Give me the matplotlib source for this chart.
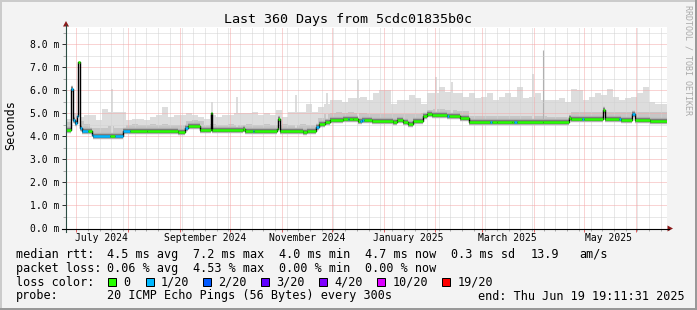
#!/usr/bin/env python3

import datetime as dt

import numpy as np
import matplotlib
matplotlib.use("Agg")
import matplotlib.pyplot as plt
from matplotlib.patches import Rectangle, Polygon

# Zeitraum: 360 Tage bis zum Ende der Messung
end_time = dt.datetime(2025, 6, 19, 19, 11, 31)
span_days = 360
start_time = end_time - dt.timedelta(days=span_days)

# Median-RTT (ms) als Treppenfunktion: Starttag seit start_time, Wert, verlorene Pings (von 20)
med_day = [0.0, 3.0, 4.19, 5.39, 6.59, 7.19, 8.09, 9.4, 13.18, 15.39, 16.17, 26.4,
           29.4, 34.3, 38.3, 48.3, 67.3, 71.3, 73.1, 80.3, 86.9, 87.5, 106.0, 107.2,
           111.8, 112.8, 126.4, 127.0, 128.2, 142.0, 144.4, 149.8, 151.6, 155.1, 158.1,
           165.9, 168.8, 169.8, 171.9, 174.9, 176.0, 177.3, 178.5, 183.3, 195.9, 198.3,
           201.9, 204.9, 207.9, 213.8, 216.2, 219.2, 228.2, 229.4, 236.0, 241.4, 254.0,
           255.2, 258.2, 267.2, 268.4, 270.2, 285.7, 301.3, 302.5, 308.9, 310.1, 321.7,
           322.9, 331.3, 332.5, 339.0, 340.8, 349.8]
med_ms = [4.26, 6.07, 4.70, 4.58, 4.90, 7.23, 4.38, 4.23, 4.23, 4.05, 4.00, 4.00,
          4.00, 4.22, 4.22, 4.24, 4.20, 4.38, 4.43, 4.26, 5.01, 4.26, 4.30, 4.23,
          4.23, 4.23, 4.33, 4.77, 4.23, 4.17, 4.23, 4.39, 4.55, 4.62, 4.70,
          4.77, 4.77, 4.77, 4.74, 4.67, 4.67, 4.70, 4.70, 4.67, 4.62, 4.70,
          4.60, 4.52, 4.67, 4.86, 4.96, 4.91, 4.87, 4.87, 4.81, 4.64, 4.60,
          4.60, 4.64, 4.60, 4.60, 4.61, 4.60, 4.80, 4.77, 4.77, 4.74, 5.13,
          4.74, 4.74, 4.71, 4.96, 4.70, 4.67]
med_loss = [0, 1, 1, 1, 1, 0, 1, 1, 0, 1, 1, 0,
            1, 1, 0, 0, 0, 1, 0, 0, 0, 0, 0, 0,
            1, 0, 0, 0, 0, 0, 0, 1, 0, 0, 0,
            0, 1, 0, 0, 0, 1, 1, 0, 0, 0, 0,
            0, 0, 0, 0, 0, 0, 1, 0, 0, 0, 1,
            0, 0, 0, 1, 0, 0, 0, 0, 1, 0, 0,
            0, 1, 0, 1, 0, 0]

# Rauch: obere Grenze des hellen Bereichs und des mittleren Bereichs, Blöcke zu 3.6 Tagen
bin_days = 3.6
smoke_hi = [4.77, 4.99, 4.84, 4.91, 4.91, 4.70, 5.20, 5.06, 5.06, 5.06, 4.70, 4.77,
            4.77, 4.70, 4.84, 4.91, 5.28, 4.84, 4.91, 4.91, 4.99, 4.91, 4.84, 4.77,
            4.91, 4.84, 4.91, 4.91, 4.99, 4.99, 4.99, 5.06, 4.91, 4.99, 4.91, 5.13,
            4.84, 5.06, 5.06, 5.06, 5.42, 5.06, 5.28, 5.42, 5.57, 5.57, 5.49, 5.64,
            5.64, 5.71, 5.57, 5.86, 6.00, 6.00, 5.42, 5.57, 5.57, 5.78, 5.64, 5.42,
            5.86, 5.86, 6.14, 5.93, 5.86, 5.86, 5.71, 5.86, 5.64, 5.71, 5.86, 5.57,
            5.71, 5.86, 5.71, 6.14, 5.64, 5.71, 5.86, 5.57, 5.57, 5.57, 5.64, 5.49,
            6.07, 6.00, 5.57, 5.71, 5.86, 5.78, 6.07, 5.71, 5.57, 5.64, 5.71, 5.86,
            6.14, 5.49, 5.42, 5.42]
smoke_mid = [4.60, 4.75, 4.65, 4.55, 4.35, 4.35, 4.35, 4.45, 4.35, 4.35,
             4.50, 4.55, 4.50, 4.50, 4.55, 4.50, 4.55, 4.50, 4.50, 4.50,
             4.65, 4.70, 4.65,
             4.50, 4.55, 4.50, 4.50, 4.55, 4.50, 4.50, 4.55, 4.50, 4.50,
             4.55, 4.50, 4.50, 4.55, 4.50, 4.50, 4.55, 4.50, 4.50,
             4.80, 4.95, 5.00, 5.05, 5.00, 5.05, 5.00, 5.00,
             4.95, 4.95, 4.95, 4.95, 4.95, 4.95, 4.95, 4.95, 4.95, 5.00,
             5.15, 5.20, 5.20, 5.15, 5.15, 5.10, 5.10,
             4.90, 4.90, 4.90, 4.90, 4.90, 4.90, 4.90, 4.90, 4.90, 4.90, 4.90, 4.90, 4.90,
             4.85, 4.85, 4.85, 4.85,
             5.05, 5.05, 5.05, 5.05, 5.05, 5.05, 5.05, 5.05, 5.05, 5.05, 5.05, 5.05,
             5.05, 5.05, 5.05, 5.05]

# schmale Ausreisser im Rauch (Tag, ms)
spike_day = [27.4, 87.3, 102.6, 137.8, 156.1, 175.1, 221.6, 231.0, 279.5]
spike_ms = [6.07, 5.50, 5.71, 5.78, 5.86, 6.43, 6.58, 6.36, 6.72]
dark_spike_day = [285.5]
dark_spike_ms = [7.74]

# Verlustfarben wie bei SmokePing
loss_levels = [0, 1, 2, 3, 4, 10, 19]
loss_labels = ["0", "1/20", "2/20", "3/20", "4/20", "10/20", "19/20"]
loss_colors = ["#26ff00", "#00b8ff", "#0059ff", "#5e00ff", "#7e00ff", "#dd00ff", "#ff0000"]

mono = "DejaVu Sans Mono"
W, H = 697, 310
px_per_ms = 23.05
x0_px, y0_px, top_px, right_px = 66, 228.5, 27, 667

def days_since_start(t):
    return (t - start_time).total_seconds() / 86400.0

def loss_color(n):
    return loss_colors[np.searchsorted(loss_levels, n, side="right") - 1]

fig = plt.figure(figsize=(W / 100, H / 100), dpi=100)
fig.patch.set_facecolor("#f3f3f3")

ax = fig.add_axes([x0_px / W, (H - y0_px) / H, (right_px - x0_px) / W, (y0_px - top_px) / H])
ax.set_facecolor("white")
ax.set_xlim(0, span_days)
ax.set_ylim(0, (y0_px - top_px) / px_per_ms)
for s in ax.spines.values():
    s.set_visible(False)

# Gitter: Wochen (Montag) grau, Monate rot
months = []
m = dt.datetime(2024, 7, 1)
while m < end_time:
    months.append(days_since_start(m))
    m = dt.datetime(m.year + (m.month // 12), m.month % 12 + 1, 1)
weeks = []
w = dt.datetime(2024, 7, 1)
while w < end_time:
    weeks.append(days_since_start(w))
    w += dt.timedelta(days=7)
minor_x = [d for d in weeks if min(abs(d - mm) for mm in months) > 0.5]
grid_kw = dict(lw=0.72, ls=(0, (1, 1)), zorder=3)
for d in minor_x:
    ax.axvline(d, color="#d2d2d2", **grid_kw)
for y in np.arange(0.5, 8.6, 1.0):
    ax.axhline(y, color="#d2d2d2", **grid_kw)
for d in months:
    ax.axvline(d, color="#f4a8a8", **grid_kw)
for y in range(1, 9):
    ax.axhline(y, color="#f4a8a8", **grid_kw)

# Rauch auf gemeinsamem Raster aus Blockgrenzen und Median-Stufen
seg_start = np.array(med_day)
seg_end = np.append(seg_start[1:], span_days)
seg_val = np.array(med_ms)
edges = np.arange(len(smoke_hi) + 1) * bin_days
xs = np.unique(np.concatenate([edges, seg_start, [span_days]]))
xs = xs[xs <= span_days]
bi = np.clip(np.searchsorted(edges, xs, side="right") - 1, 0, len(smoke_hi) - 1)
mi = np.searchsorted(seg_start, xs, side="right") - 1
base = seg_val[mi]
hi = np.array(smoke_hi)[bi]
mid = np.array(smoke_mid)[bi]
ax.fill_between(xs, np.minimum(base, hi), hi, step="post", color="#dddddd", lw=0, zorder=2)
ax.fill_between(xs, np.minimum(base, mid), mid, step="post", color="#c6c6c6", lw=0, zorder=2)
base_sp = seg_val[np.searchsorted(seg_start, spike_day, side="right") - 1]
ax.vlines(spike_day, base_sp, spike_ms, colors="#dddddd", lw=1.44, zorder=2)
base_dk = seg_val[np.searchsorted(seg_start, dark_spike_day, side="right") - 1]
ax.vlines(dark_spike_day, base_dk, dark_spike_ms, colors="#b0b0b0", lw=0.8, zorder=2)

# Median mit dunklem Saum, schwarzen Übergängen und Verlustfarbe
long_seg = (seg_end - seg_start) >= 1.0
for lw, col in ((4.6, "#b4b4b4"), (3.0, "#7c7c7c")):
    lc = ax.hlines(seg_val[long_seg], seg_start[long_seg], seg_end[long_seg],
                   colors=col, lw=lw, zorder=4)
    lc.set_capstyle("butt")
ax.step(np.append(seg_start, span_days), np.append(seg_val, seg_val[-1]),
        where="post", color="black", lw=1.0, zorder=5)
lc = ax.hlines(seg_val, seg_start, seg_end, colors=[loss_color(n) for n in med_loss],
               lw=1.8, zorder=6)
lc.set_capstyle("butt")

# Achsenbeschriftung
ax.set_yticks(range(0, 9))
ax.set_yticklabels(["%.1f m" % v for v in range(0, 9)], fontfamily=mono, fontsize=7)
ax.set_yticks(np.arange(0.5, 8.6, 1.0), minor=True)
ax.tick_params(axis="y", which="major", length=3, width=0.72, pad=1.5, color="#333333")
ax.tick_params(axis="y", which="minor", length=2, width=0.72, color="#aaaaaa")
ax.set_xticks(months)
ax.set_xticks(minor_x, minor=True)
ax.tick_params(axis="x", which="major", length=2.2, width=0.72, color="#e06060",
               labelbottom=False)
ax.tick_params(axis="x", which="minor", length=1.5, width=0.72, color="#aaaaaa")
label_months = [dt.datetime(2024, 7, 16), dt.datetime(2024, 9, 16), dt.datetime(2024, 11, 16),
                dt.datetime(2025, 1, 16), dt.datetime(2025, 3, 16), dt.datetime(2025, 5, 16)]
for t in label_months:
    ax.text(days_since_start(t), -9.3 / px_per_ms, t.strftime("%B %Y"), ha="center",
            va="center", fontfamily=mono, fontsize=7, clip_on=False)

# Overlay in Pixelkoordinaten für Rahmen, Pfeile und Legende
ov = fig.add_axes([0, 0, 1, 1], zorder=10)
ov.set_xlim(0, W)
ov.set_ylim(H, 0)
ov.axis("off")
ov.patch.set_alpha(0)
ov.plot([0, W], [1, 1], color="#cbcbcb", lw=1.44)
ov.plot([1, 1], [0, H], color="#cbcbcb", lw=1.44)
ov.plot([0, W], [H - 1, H - 1], color="#999999", lw=1.44)
ov.plot([W - 1, W - 1], [0, H], color="#999999", lw=1.44)

axis_col = "#2c4d43"
arrow_col = "#8b1a1a"
ov.plot([x0_px, x0_px], [y0_px + 3.5, 25], color=axis_col, lw=0.8)
ov.plot([x0_px - 4, 669], [y0_px, y0_px], color="black", lw=0.8)
ov.add_patch(Polygon([[x0_px, 21], [x0_px - 3, 26.5], [x0_px + 3, 26.5]], closed=True,
                     color=arrow_col, lw=0))
ov.add_patch(Polygon([[673, y0_px], [667.5, y0_px - 3], [667.5, y0_px + 3]], closed=True,
                     color=arrow_col, lw=0))

ov.text(348, 19, "Last 360 Days from 5cdc01835b0c", ha="center", va="center",
        fontfamily=mono, fontsize=9.6)
ov.text(11, 125, "Seconds", rotation=90, ha="center", va="center",
        fontfamily=mono, fontsize=8.5)
ov.text(688, 60, "RRDTOOL / TOBI OETIKER", rotation=270, ha="center", va="center",
        fontfamily=mono, fontsize=6, color="#aaaaaa")

leg = dict(ha="left", va="center", fontfamily=mono, fontsize=8.5)
row1 = [(16, "median rtt:"), (107, "4.5 ms avg"), (193, "7.2 ms max"), (279, "4.0 ms min"),
        (365, "4.7 ms now"), (451, "0.3 ms sd"), (530.7, "13.9"), (579.3, "am/s")]
row2 = [(16, "packet loss:"), (107, "0.06 % avg"), (193, "4.53 % max"),
        (279, "0.00 % min"), (365, "0.00 % now")]
row4 = [(16, "probe:"), (107, "20 ICMP Echo Pings (56 Bytes) every 300s"),
        (478, "end: Thu Jun 19 19:11:31 2025")]
for yy, row in ((254.3, row1), (268.3, row2), (296, row4)):
    for xx, s in row:
        ov.text(xx, yy, s, **leg)
ov.text(16, 282.3, "loss color:", **leg)
box_x = [108, 145.7, 203, 261, 319, 377.3, 442.3]
for bx, col, lab in zip(box_x, loss_colors, loss_labels):
    ov.add_patch(Rectangle((bx, 278), 8, 8, facecolor=col, edgecolor="black", lw=0.72))
    ov.text(bx + 15, 282.3, lab, **leg)

fig.savefig("out.png", dpi=100, facecolor=fig.get_facecolor())
